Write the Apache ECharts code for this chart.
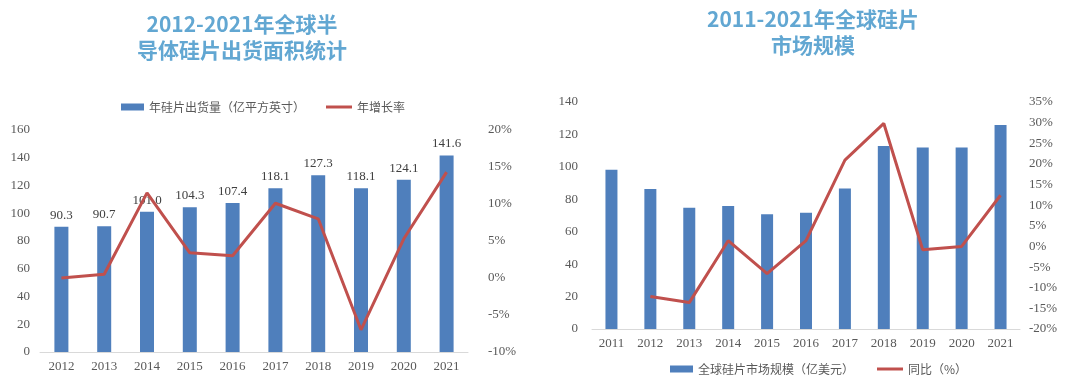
<!DOCTYPE html>
<html>
<head>
<meta charset="utf-8">
<script src="https://cdn.jsdelivr.net/npm/echarts@6/dist/echarts.min.js"></script>
<style>
  html, body { margin: 0; padding: 0; background: #fff; }
  #chart { width: 1080px; height: 378px; }
</style>
</head>
<body>
<div id="chart"></div>
<script>
// region 数据
const years1 = ['2012', '2013', '2014', '2015', '2016', '2017', '2018', '2019', '2020', '2021']
const shipArea = [90.3, 90.7, 101.0, 104.3, 107.4, 118.1, 127.3, 118.1, 124.1, 141.6]
const shipGrowth = [0, 0.5, 11.5, 3.4, 3.0, 10.1, 8.0, -7.0, 5.3, 14.3]

const years2 = ['2011', '2012', '2013', '2014', '2015', '2016', '2017', '2018', '2019', '2020', '2021']
const marketSize = [98.2, 86.3, 74.8, 75.8, 70.7, 71.7, 86.7, 112.9, 111.9, 111.9, 125.8]
const marketYoy = ['-', -12.1, -13.6, 1.4, -6.6, 1.4, 20.9, 29.8, -0.8, 0, 12.4]

const title1 = '2012-2021年全球半\n导体硅片出货面积统计'
const title2 = '2011-2021年全球硅片\n市场规模'
const barName1 = '年硅片出货量（亿平方英寸）'
const lineName1 = '年增长率'
const barName2 = '全球硅片市场规模（亿美元）'
const lineName2 = '同比（%）'
// endregion

const blue = '#4F7FBC'
const red = '#C0504D'
const gray = '#595959'
const serif = '"Liberation Serif", "Times New Roman", serif'
const cjk = '"Noto Sans CJK SC", sans-serif'

const axisText = {color: gray, fontFamily: serif, fontSize: 13}
const titleText = {color: '#62A7D2', fontFamily: cjk, fontSize: 21, fontWeight: 'bold', lineHeight: 26}

const chart = echarts.init(document.getElementById('chart'), null, {renderer: 'canvas'})

const option = {
  animation: false,
  title: [
    {text: title1, left: 237, top: 6, textAlign: 'center', textStyle: titleText},
    {text: title2, left: 808, top: 1, textAlign: 'center', textStyle: titleText}
  ],
  legend: [
    {
      data: [barName1], left: 116, top: 96, itemWidth: 23, itemHeight: 7, itemGap: 3,
      icon: 'rect', textStyle: {color: gray, fontFamily: cjk, fontSize: 12}
    },
    {
      data: [lineName1], left: 321, top: 96, itemWidth: 26, itemHeight: 3,
      icon: 'rect', textStyle: {color: gray, fontFamily: cjk, fontSize: 12}
    },
    {
      data: [barName2], left: 665, top: 358, itemWidth: 23, itemHeight: 7,
      icon: 'rect', textStyle: {color: gray, fontFamily: cjk, fontSize: 12}
    },
    {
      data: [lineName2], left: 872, top: 358, itemWidth: 26, itemHeight: 3,
      icon: 'rect', textStyle: {color: gray, fontFamily: cjk, fontSize: 12}
    }
  ],
  grid: [
    {left: 40, top: 130, width: 428, height: 222},
    {left: 592, top: 102, width: 428, height: 227}
  ],
  xAxis: [
    {
      type: 'category', gridIndex: 0, data: years1,
      axisLine: {lineStyle: {color: '#D9D9D9'}},
      axisTick: {show: false},
      axisLabel: {...axisText, margin: 8}
    },
    {
      type: 'category', gridIndex: 1, data: years2,
      axisLine: {lineStyle: {color: '#D9D9D9'}},
      axisTick: {show: false},
      axisLabel: {...axisText, margin: 8}
    }
  ],
  yAxis: [
    {
      type: 'value', gridIndex: 0, min: 0, max: 160, interval: 20,
      splitLine: {show: false}, axisLine: {show: false}, axisTick: {show: false},
      axisLabel: {...axisText, margin: 10}
    },
    {
      type: 'value', gridIndex: 0, min: -10, max: 20, interval: 5, position: 'right',
      splitLine: {show: false}, axisLine: {show: false}, axisTick: {show: false},
      axisLabel: {...axisText, margin: 20, formatter: '{value}%'}
    },
    {
      type: 'value', gridIndex: 1, min: 0, max: 140, interval: 20,
      splitLine: {show: false}, axisLine: {show: false}, axisTick: {show: false},
      axisLabel: {...axisText, margin: 14}
    },
    {
      type: 'value', gridIndex: 1, min: -20, max: 35, interval: 5, position: 'right',
      splitLine: {show: false}, axisLine: {show: false}, axisTick: {show: false},
      axisLabel: {...axisText, margin: 9, formatter: '{value}%'}
    }
  ],
  series: [
    {
      name: barName1, type: 'bar', xAxisIndex: 0, yAxisIndex: 0, data: shipArea,
      barWidth: 14, itemStyle: {color: blue},
      label: {
        show: true, position: 'top', distance: 5,
        color: '#404040', fontFamily: serif, fontSize: 13,
        formatter: p => p.value.toFixed(1)
      }
    },
    {
      name: lineName1, type: 'line', xAxisIndex: 0, yAxisIndex: 1, data: shipGrowth,
      symbol: 'none', itemStyle: {color: red}, lineStyle: {color: red, width: 3}, z: 3
    },
    {
      name: barName2, type: 'bar', xAxisIndex: 1, yAxisIndex: 2, data: marketSize,
      barWidth: 12, itemStyle: {color: blue}
    },
    {
      name: lineName2, type: 'line', xAxisIndex: 1, yAxisIndex: 3, data: marketYoy,
      symbol: 'none', itemStyle: {color: red}, lineStyle: {color: red, width: 3}, z: 3
    }
  ]
}

chart.setOption(option)
</script>
</body>
</html>
